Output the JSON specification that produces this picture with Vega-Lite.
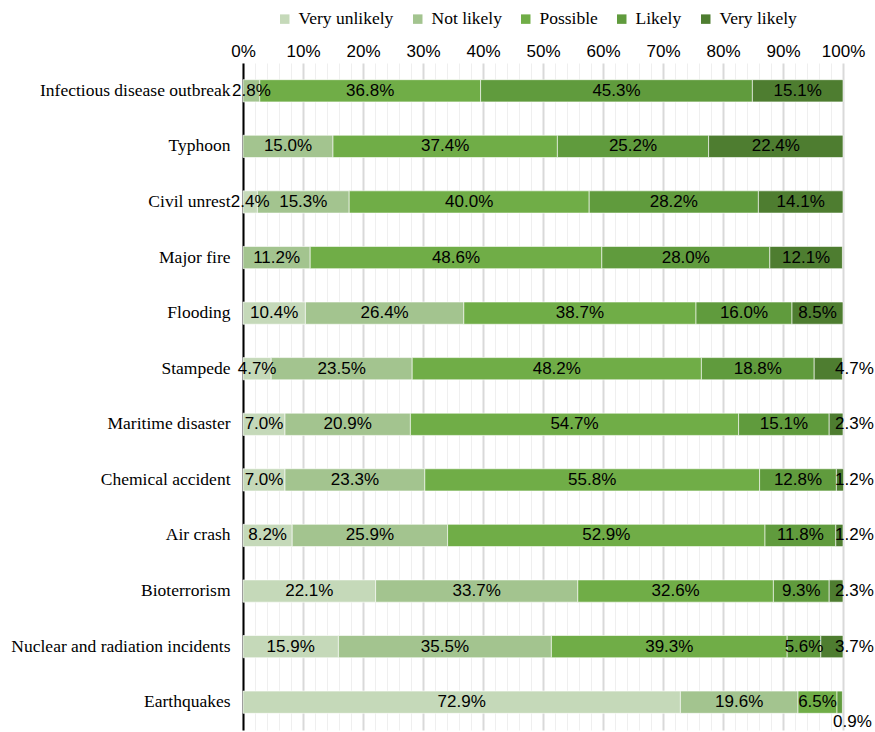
{
  "$schema": "https://vega.github.io/schema/vega-lite/v6.json",
  "autosize": {"type": "none"},
  "padding": {"left": 243, "top": 63, "right": 32, "bottom": 2},
  "width": 600,
  "height": 667,
  "background": "white",
  "config": {"view": {"stroke": null}},
  "data": {
    "values": [
      {"hazard": "Infectious disease outbreak", "level": "Not likely", "value": 2.8},
      {"hazard": "Infectious disease outbreak", "level": "Possible", "value": 36.8},
      {"hazard": "Infectious disease outbreak", "level": "Likely", "value": 45.3},
      {"hazard": "Infectious disease outbreak", "level": "Very likely", "value": 15.1},
      {"hazard": "Typhoon", "level": "Not likely", "value": 15.0},
      {"hazard": "Typhoon", "level": "Possible", "value": 37.4},
      {"hazard": "Typhoon", "level": "Likely", "value": 25.2},
      {"hazard": "Typhoon", "level": "Very likely", "value": 22.4},
      {"hazard": "Civil unrest", "level": "Very unlikely", "value": 2.4},
      {"hazard": "Civil unrest", "level": "Not likely", "value": 15.3},
      {"hazard": "Civil unrest", "level": "Possible", "value": 40.0},
      {"hazard": "Civil unrest", "level": "Likely", "value": 28.2},
      {"hazard": "Civil unrest", "level": "Very likely", "value": 14.1},
      {"hazard": "Major fire", "level": "Not likely", "value": 11.2},
      {"hazard": "Major fire", "level": "Possible", "value": 48.6},
      {"hazard": "Major fire", "level": "Likely", "value": 28.0},
      {"hazard": "Major fire", "level": "Very likely", "value": 12.1},
      {"hazard": "Flooding", "level": "Very unlikely", "value": 10.4},
      {"hazard": "Flooding", "level": "Not likely", "value": 26.4},
      {"hazard": "Flooding", "level": "Possible", "value": 38.7},
      {"hazard": "Flooding", "level": "Likely", "value": 16.0},
      {"hazard": "Flooding", "level": "Very likely", "value": 8.5},
      {"hazard": "Stampede", "level": "Very unlikely", "value": 4.7},
      {"hazard": "Stampede", "level": "Not likely", "value": 23.5},
      {"hazard": "Stampede", "level": "Possible", "value": 48.2},
      {"hazard": "Stampede", "level": "Likely", "value": 18.8},
      {"hazard": "Stampede", "level": "Very likely", "value": 4.7},
      {"hazard": "Maritime disaster", "level": "Very unlikely", "value": 7.0},
      {"hazard": "Maritime disaster", "level": "Not likely", "value": 20.9},
      {"hazard": "Maritime disaster", "level": "Possible", "value": 54.7},
      {"hazard": "Maritime disaster", "level": "Likely", "value": 15.1},
      {"hazard": "Maritime disaster", "level": "Very likely", "value": 2.3},
      {"hazard": "Chemical accident", "level": "Very unlikely", "value": 7.0},
      {"hazard": "Chemical accident", "level": "Not likely", "value": 23.3},
      {"hazard": "Chemical accident", "level": "Possible", "value": 55.8},
      {"hazard": "Chemical accident", "level": "Likely", "value": 12.8},
      {"hazard": "Chemical accident", "level": "Very likely", "value": 1.2},
      {"hazard": "Air crash", "level": "Very unlikely", "value": 8.2},
      {"hazard": "Air crash", "level": "Not likely", "value": 25.9},
      {"hazard": "Air crash", "level": "Possible", "value": 52.9},
      {"hazard": "Air crash", "level": "Likely", "value": 11.8},
      {"hazard": "Air crash", "level": "Very likely", "value": 1.2},
      {"hazard": "Bioterrorism", "level": "Very unlikely", "value": 22.1},
      {"hazard": "Bioterrorism", "level": "Not likely", "value": 33.7},
      {"hazard": "Bioterrorism", "level": "Possible", "value": 32.6},
      {"hazard": "Bioterrorism", "level": "Likely", "value": 9.3},
      {"hazard": "Bioterrorism", "level": "Very likely", "value": 2.3},
      {"hazard": "Nuclear and radiation incidents", "level": "Very unlikely", "value": 15.9},
      {"hazard": "Nuclear and radiation incidents", "level": "Not likely", "value": 35.5},
      {"hazard": "Nuclear and radiation incidents", "level": "Possible", "value": 39.3},
      {"hazard": "Nuclear and radiation incidents", "level": "Likely", "value": 5.6},
      {"hazard": "Nuclear and radiation incidents", "level": "Very likely", "value": 3.7},
      {"hazard": "Earthquakes", "level": "Very unlikely", "value": 72.9},
      {"hazard": "Earthquakes", "level": "Not likely", "value": 19.6},
      {"hazard": "Earthquakes", "level": "Possible", "value": 6.5},
      {"hazard": "Earthquakes", "level": "Likely", "value": 0.9}
    ]
  },
  "transform": [
    {"calculate": "indexof(['Very unlikely','Not likely','Possible','Likely','Very likely'], datum.level)", "as": "ord"},
    {"stack": "value", "groupby": ["hazard"], "sort": [{"field": "ord", "order": "ascending"}], "as": ["x0", "x1"]},
    {"calculate": "(datum.x0 + datum.x1) / 2", "as": "mid"},
    {"calculate": "format(datum.value, '.1f') + '%'", "as": "label"}
  ],
  "encoding": {
    "y": {
      "field": "hazard",
      "type": "nominal",
      "sort": ["Infectious disease outbreak", "Typhoon", "Civil unrest", "Major fire", "Flooding", "Stampede", "Maritime disaster", "Chemical accident", "Air crash", "Bioterrorism", "Nuclear and radiation incidents", "Earthquakes"],
      "scale": {"paddingInner": 0.6, "paddingOuter": 0.3},
      "axis": {
        "title": null,
        "ticks": false,
        "domainColor": "#000000",
        "domainWidth": 2,
        "labelFont": "Liberation Serif",
        "labelFontSize": 17.5,
        "labelColor": "#000000",
        "labelPadding": 13,
        "labelLimit": 300
      }
    }
  },
  "layer": [
    {
      "mark": {"type": "bar", "stroke": "white", "strokeWidth": 0.6},
      "encoding": {
        "x": {
          "field": "x0",
          "type": "quantitative",
          "scale": {"domain": [0, 100], "nice": false, "zero": true},
          "axis": {
            "title": null,
            "orient": "top",
            "values": [0,2,4,6,8,10,12,14,16,18,20,22,24,26,28,30,32,34,36,38,40,42,44,46,48,50,52,54,56,58,60,62,64,66,68,70,72,74,76,78,80,82,84,86,88,90,92,94,96,98,100],
            "tickCount": 1000,
            "labelExpr": "datum.value % 10 == 0 ? datum.value + '%' : ''",
            "ticks": false,
            "domain": false,
            "grid": true,
            "gridColor": {"condition": {"test": "datum.value % 10 == 0", "value": "#d9d9d9"}, "value": "#efefef"},
            "gridWidth": {"condition": {"test": "datum.value % 10 == 0", "value": 2}, "value": 1},
            "labelFont": "Liberation Sans",
            "labelFontSize": 17,
            "labelColor": "#000000",
            "labelPadding": 3,
            "labelFlush": false,
            "labelOverlap": false
          }
        },
        "x2": {"field": "x1"},
        "color": {
          "field": "level",
          "type": "nominal",
          "scale": {
            "domain": ["Very unlikely", "Not likely", "Possible", "Likely", "Very likely"],
            "range": ["#c5d9b9", "#a3c48f", "#70ad47", "#609b3d", "#4e7d30"]
          },
          "legend": {
            "title": null,
            "orient": "none",
            "direction": "horizontal",
            "legendX": 33,
            "legendY": -53,
            "symbolType": "square",
            "symbolSize": 90,
            "symbolStrokeWidth": 0,
            "labelFont": "Liberation Serif",
            "labelFontSize": 17.5,
            "labelColor": "#000000",
            "labelOffset": 5,
            "columnPadding": 15
          }
        }
      }
    },
    {
      "transform": [{"filter": "!(datum.value < 5 && datum.x0 > 90)"}],
      "mark": {"type": "text", "font": "Liberation Sans", "fontSize": 17, "color": "#000000", "align": "center", "baseline": "middle"},
      "encoding": {
        "x": {"field": "mid", "type": "quantitative"},
        "text": {"field": "label"}
      }
    },
    {
      "transform": [{"filter": "datum.value < 5 && datum.x0 > 90 && datum.hazard != 'Earthquakes'"}],
      "mark": {"type": "text", "font": "Liberation Sans", "fontSize": 17, "color": "#000000", "align": "left", "baseline": "middle", "dx": -8},
      "encoding": {
        "x": {"datum": 100, "type": "quantitative"},
        "text": {"field": "label"}
      }
    },
    {
      "transform": [{"filter": "datum.value < 5 && datum.x0 > 90 && datum.hazard == 'Earthquakes'"}],
      "mark": {"type": "text", "font": "Liberation Sans", "fontSize": 17, "color": "#000000", "align": "left", "baseline": "middle", "dx": -10, "dy": 20},
      "encoding": {
        "x": {"datum": 100, "type": "quantitative"},
        "text": {"field": "label"}
      }
    }
  ]
}
